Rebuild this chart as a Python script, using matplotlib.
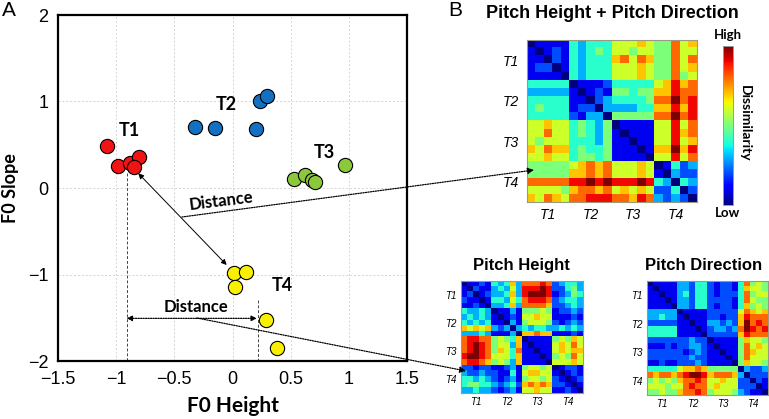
import numpy as np
import matplotlib
matplotlib.use("Agg")
import matplotlib.pyplot as plt
from matplotlib.patches import FancyArrowPatch

# ---------------- data ----------------
x_ticks = [-1.5, -1, -0.5, 0, 0.5, 1, 1.5]
y_ticks = [-2, -1, 0, 1, 2]

tone_names = ["T1", "T2", "T3", "T4"]
tone_colors = ["#f01414", "#1470c0", "#8cc83c", "#f8f000"]

t1_height = [-1.08, -0.98, -0.88, -0.80, -0.85]
t1_slope = [0.49, 0.25, 0.29, 0.36, 0.24]
t2_height = [-0.32, -0.15, 0.20, 0.24, 0.30]
t2_slope = [0.71, 0.69, 0.68, 1.01, 1.06]
t3_height = [0.53, 0.62, 0.68, 0.71, 0.97]
t3_slope = [0.10, 0.15, 0.09, 0.07, 0.27]
t4_height = [0.01, 0.12, 0.02, 0.29, 0.38]
t4_slope = [-0.98, -0.97, -1.14, -1.53, -1.85]

# tone label positions (F0 height, F0 slope)
label_height = [-0.89, -0.05, 0.79, 0.43]
label_slope = [0.67, 0.96, 0.41, -1.13]

# dissimilarity matrices (0 = low, 10 = high)
height_plus_direction = [
    [0,1,1,1,1, 4,3,4,4,4, 6,6,6,7,6, 5,5,8,6,7],
    [1,0,1,2,1, 4,3,4,5,4, 6,6,5,6,6, 5,5,8,6,6],
    [1,1,0,2,1, 4,3,4,4,4, 7,8,6,8,7, 5,5,8,6,8],
    [1,2,2,0,1, 4,3,4,4,4, 6,6,6,7,6, 5,5,8,6,7],
    [1,1,1,1,0, 4,3,4,4,4, 6,6,6,7,6, 5,5,8,5,6],
    [4,4,4,4,4, 0,1,1,1,2, 4,4,4,4,4, 6,7,9,7,8],
    [3,3,3,3,3, 1,0,1,2,1, 5,5,4,5,5, 7,7,9,8,8],
    [4,4,4,4,4, 1,1,0,2,3, 4,4,4,4,5, 8,8,10,8,9],
    [4,5,4,4,4, 1,2,2,0,3, 3,3,3,4,4, 7,7,9,7,9],
    [4,4,4,4,4, 2,1,3,3,0, 5,5,5,5,5, 8,8,10,8,9],
    [6,6,7,6,6, 4,5,4,3,5, 0,1,1,1,1, 6,6,9,6,8],
    [6,6,8,6,6, 4,5,4,3,5, 1,0,1,1,1, 6,6,9,7,8],
    [6,5,6,6,6, 4,4,4,3,5, 1,1,0,1,1, 6,6,9,6,7],
    [7,6,8,7,7, 4,5,4,4,5, 1,1,1,0,1, 7,7,10,7,9],
    [6,6,7,6,6, 4,5,5,4,5, 1,1,1,1,0, 6,6,9,6,8],
    [5,5,5,5,5, 6,7,8,7,8, 6,6,6,7,6, 0,1,4,2,3],
    [5,5,5,5,5, 7,7,8,7,8, 6,6,6,7,6, 1,0,3,2,2],
    [8,8,8,8,8, 9,9,10,9,10, 9,9,9,10,9, 4,3,0,4,3],
    [6,6,6,6,5, 7,8,8,7,8, 6,7,6,7,6, 2,2,4,0,2],
    [7,6,8,7,6, 8,8,9,9,9, 8,8,7,9,8, 3,2,3,2,0],
]

pitch_height = [
    [0,1,1,2,1, 4,3,4,7,3, 8,8,8,9,8, 2,3,4,4,3],
    [1,0,2,1,1, 3,4,3,6,3, 9,9,9,10,9, 2,2,4,5,3],
    [1,2,0,1,2, 3,3,4,7,3, 9,10,10,10,9, 1,2,3,5,4],
    [2,1,1,0,1, 4,4,3,6,4, 8,9,9,9,8, 2,3,4,4,3],
    [1,1,2,1,0, 3,3,4,7,3, 8,8,8,8,7, 2,2,3,4,3],
    [4,3,3,4,3, 0,1,1,3,1, 5,5,5,6,5, 1,2,2,3,2],
    [3,4,3,4,3, 1,0,1,2,1, 6,6,7,6,6, 1,1,1,2,1],
    [4,3,4,3,4, 1,1,0,3,1, 5,6,6,6,5, 2,1,2,3,2],
    [7,6,7,6,7, 3,2,3,0,3, 4,3,4,4,3, 3,4,3,4,3],
    [3,3,3,4,3, 1,1,1,3,0, 7,7,8,7,7, 1,1,1,2,1],
    [8,9,9,8,8, 5,6,5,4,7, 0,1,1,1,1, 5,6,5,7,6],
    [8,9,10,9,8, 5,6,6,3,7, 1,0,1,1,1, 6,7,6,8,6],
    [8,9,10,9,8, 5,7,6,4,8, 1,1,0,1,1, 6,7,6,7,7],
    [9,10,10,9,8, 6,6,6,4,7, 1,1,1,0,1, 5,6,5,8,6],
    [8,9,9,8,7, 5,6,5,3,7, 1,1,1,1,0, 6,6,6,7,6],
    [2,2,1,2,2, 1,1,2,3,1, 5,6,6,5,6, 0,1,2,2,1],
    [3,2,2,3,2, 2,1,1,4,1, 6,7,7,6,6, 1,0,1,2,1],
    [4,4,3,4,3, 2,1,2,3,1, 5,6,6,5,6, 2,1,0,1,2],
    [4,5,5,4,4, 3,2,3,4,2, 7,8,7,8,7, 2,2,1,0,1],
    [3,3,4,3,3, 2,1,2,3,1, 6,6,7,6,6, 1,1,2,1,0],
]

pitch_direction = [
    [0,1,1,1,1, 3,3,2,4,4, 2,1,2,2,1, 4,8,5,6,5],
    [1,0,1,1,1, 3,3,2,4,4, 2,1,2,2,1, 4,7,6,6,5],
    [1,1,0,1,1, 3,4,2,4,4, 2,1,2,2,2, 4,8,5,6,6],
    [1,1,1,0,1, 3,3,2,4,4, 2,2,2,2,1, 4,8,6,5,5],
    [1,1,1,1,0, 3,3,2,4,4, 2,1,2,2,1, 4,7,5,6,5],
    [3,3,3,3,3, 0,1,1,1,1, 2,2,2,2,2, 6,8,7,6,7],
    [3,3,4,3,3, 1,0,1,1,1, 2,2,1,2,2, 7,9,8,8,8],
    [2,2,2,2,2, 1,1,0,1,1, 3,3,2,3,2, 7,10,8,9,8],
    [4,4,4,4,4, 1,1,1,0,1, 2,3,3,2,3, 8,10,9,8,9],
    [4,4,4,4,4, 1,1,1,1,0, 2,2,2,2,2, 7,9,8,8,8],
    [2,2,2,2,2, 2,2,3,2,2, 0,1,1,1,1, 5,7,6,6,5],
    [1,1,1,2,1, 2,2,3,3,2, 1,0,1,1,1, 5,8,6,7,6],
    [2,2,2,2,2, 2,1,2,3,2, 1,1,0,1,1, 5,8,7,6,6],
    [2,2,2,2,2, 2,2,3,2,2, 1,1,1,0,1, 5,8,6,6,6],
    [1,1,2,1,1, 2,2,2,3,2, 1,1,1,1,0, 5,7,6,6,5],
    [4,4,4,4,4, 6,7,7,8,7, 5,5,5,5,5, 0,3,2,2,3],
    [8,7,8,8,7, 8,9,10,10,9, 7,8,8,8,7, 3,0,2,2,2],
    [5,6,5,6,5, 7,8,8,9,8, 6,6,7,6,6, 2,2,0,2,1],
    [6,6,6,5,6, 6,8,9,8,8, 6,7,6,6,6, 2,2,2,0,1],
    [5,5,6,5,5, 7,8,8,9,8, 5,6,6,6,5, 3,2,1,1,0],
]

# ---------------- figure ----------------
W, H = 769, 419
plt.rcParams["font.family"] = ["Liberation Sans", "DejaVu Sans"]
fig = plt.figure(figsize=(W / 100, H / 100), dpi=100)


def box(l, t, r, b):
    return [l / W, 1 - b / H, (r - l) / W, (b - t) / H]


def fpos(px, py):
    return (px / W, 1 - py / H)


# ---- panel A: scatter ----
ax = fig.add_axes(box(58, 15, 407, 361))
ax.set_xlim(-1.5, 1.5)
ax.set_ylim(-2, 2)
ax.set_xticks(x_ticks)
ax.set_xticklabels(["\u22121.5", "\u22121", "\u22120.5", "0", "0.5", "1", "1.5"])
ax.set_yticks(y_ticks)
ax.set_yticklabels(["\u22122", "\u22121", "0", "1", "2"])
ax.grid(True, color="#d4d4d4", linestyle=(0, (2, 2)), linewidth=0.7)
ax.set_axisbelow(True)
ax.tick_params(length=0, labelsize=13, pad=7)
for sp in ax.spines.values():
    sp.set_linewidth(1.6)

heights = [t1_height, t2_height, t3_height, t4_height]
slopes = [t1_slope, t2_slope, t3_slope, t4_slope]
for hs, ss, col in zip(heights, slopes, tone_colors):
    ax.scatter(hs, ss, s=105, c=col, edgecolors="black", linewidths=0.8, zorder=4)

for name, lx, ly in zip(tone_names, label_height, label_slope):
    ax.text(lx, ly, name, family="Lato", weight="bold", fontsize=13,
            ha="center", va="center", zorder=5)

# guide lines from T1 / T4 exemplars to the axis
ax.plot([t1_height[2] - 0.03] * 2, [0.17, -2], ls=(0, (3, 2)), color="#444444", lw=0.7, zorder=2)
ax.plot([t4_height[3] - 0.075] * 2, [-1.30, -2], ls=(0, (3, 2)), color="#444444", lw=0.7, zorder=2)

# double arrows
ax.annotate("", xy=(-0.05, -0.89), xytext=(-0.81, 0.17),
            arrowprops=dict(arrowstyle="<|-|>", color="black", lw=0.7,
                            mutation_scale=8, shrinkA=0, shrinkB=0), zorder=3)
ax.annotate("", xy=(0.21, -1.507), xytext=(-0.91, -1.507),
            arrowprops=dict(arrowstyle="<|-|>", color="black", lw=0.9, ls=(0, (1, 1)),
                            mutation_scale=8, shrinkA=0, shrinkB=0), zorder=3)

ax.text(-0.10, -0.15, "Distance", family="Lato", weight="bold", fontsize=12,
        ha="center", va="center", rotation=7)
ax.text(-0.31, -1.38, "Distance", family="Lato", weight="bold", fontsize=12,
        ha="center", va="center")

ax.set_xlabel("F0 Height", family="Lato", weight="bold", fontsize=15)
ax.xaxis.set_label_coords(0.5, -0.10)
ax.set_ylabel("F0 Slope", family="Lato", weight="bold", fontsize=13, va="center")
ax.yaxis.set_label_coords(-0.135, 0.5)

fig.text(*fpos(9, 11), "A", fontsize=15, ha="center", va="center")
fig.text(*fpos(455, 11), "B", fontsize=15, ha="center", va="center")


# ---- panel B: heatmaps ----
def heat(rect, mat, fs, lpad, bpad):
    hax = fig.add_axes(rect)
    im = hax.imshow(np.array(mat), cmap="jet", vmin=0, vmax=10,
                    aspect="auto", interpolation="nearest")
    hax.set_xticks([2, 7, 12, 17])
    hax.set_yticks([2, 7, 12, 17])
    hax.set_xticklabels(tone_names, fontstyle="italic", fontsize=fs)
    hax.set_yticklabels(tone_names, fontstyle="italic", fontsize=fs)
    hax.tick_params(axis="y", length=0, pad=lpad)
    hax.tick_params(axis="x", length=0, pad=bpad)
    for sp in hax.spines.values():
        sp.set_color("#9a9a80")
        sp.set_linewidth(0.8)
    return im


im = heat(box(527, 40, 697, 202), height_plus_direction, 10, 6, 4)
fig.text(*fpos(612, 13), "Pitch Height + Pitch Direction", fontsize=13,
         weight="bold", ha="center", va="center")

heat(box(461, 281, 583, 393), pitch_height, 7, 3, 3)
fig.text(*fpos(521, 265), "Pitch Height", fontsize=12, weight="bold",
         ha="center", va="center")

heat(box(647, 281, 768, 395), pitch_direction, 7, 3, 3)
fig.text(*fpos(704, 265), "Pitch Direction", fontsize=12, weight="bold",
         ha="center", va="center")

cax = fig.add_axes(box(723, 46, 733, 205))
cb = fig.colorbar(im, cax=cax)
cb.set_ticks([])
cb.outline.set_edgecolor("#9a9a9a")
cb.outline.set_linewidth(0.7)
fig.text(*fpos(728, 35), "High", family="Lato", weight="bold", fontsize=9.5,
         ha="center", va="center")
fig.text(*fpos(728, 213), "Low", family="Lato", weight="bold", fontsize=9.5,
         ha="center", va="center")
fig.text(*fpos(745, 123), "Dissimilarity", family="Lato", weight="bold",
         fontsize=10, ha="center", va="center", rotation=-90)

# ---- connectors from distances to matrix cells ----
for (x0, y0), (x1, y1) in [((182, 217), (534, 170)), ((197, 318), (466, 371))]:
    fig.add_artist(FancyArrowPatch(fpos(x0, y0), fpos(x1, y1),
                                   transform=fig.transFigure,
                                   arrowstyle="-|>", linestyle=(0, (1, 1)),
                                   lw=0.9, mutation_scale=9, color="black",
                                   shrinkA=0, shrinkB=0, zorder=10))

fig.savefig("out.png", dpi=100)
